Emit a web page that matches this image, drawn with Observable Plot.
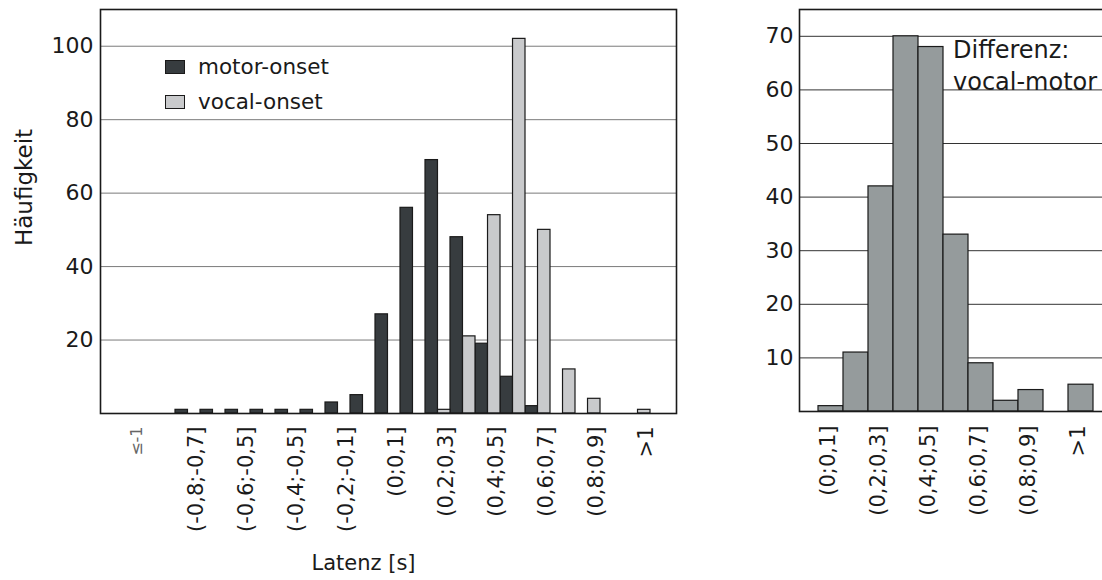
<!DOCTYPE html>
<html>
<head>
<meta charset="utf-8">
<script src="https://cdn.jsdelivr.net/npm/d3@7"></script>
<script src="https://cdn.jsdelivr.net/npm/@observablehq/plot@0.6"></script>
<style>
  html, body { margin: 0; padding: 0; background: #fff; }
  body { position: relative; width: 1102px; height: 580px; overflow: hidden; font-family: "DejaVu Sans", sans-serif; color: #1a1a1a; }
  #latency { position: absolute; left: 0; top: 0; width: 700px; height: 580px; }
  #difference { position: absolute; left: 700px; top: 0; width: 412px; height: 580px; }
  #latency svg, #difference svg { max-width: none !important; display: block; }
  .legend { position: absolute; left: 165px; top: 49px; font-size: 21.5px; }
  .legend .row { display: flex; align-items: center; height: 35px; }
  .legend .swatch { width: 18px; height: 12px; border: 1.3px solid #1a1a1a; margin-right: 13px; }
</style>
</head>
<body>
<div id="latency"></div>
<div id="difference"></div>
<div class="legend" id="legend"></div>
<script>
// Latency bins (seconds), left histogram
const latencyBins = [
  "≤-1", "(-1;-0,9]", "(-0,9;-0,8]", "(-0,8;-0,7]", "(-0,7;-0,6]", "(-0,6;-0,5]",
  "(-0,5;-0,4]", "(-0,4;-0,5]", "(-0,3;-0,2]", "(-0,2;-0,1]", "(-0,1;0]",
  "(0;0,1]", "(0,1;0,2]", "(0,2;0,3]", "(0,3;0,4]", "(0,4;0,5]", "(0,5;0,6]",
  "(0,6;0,7]", "(0,7;0,8]", "(0,8;0,9]", "(0,9;1]", ">1"
];
const motorOnset = [0, 0, 0, 1, 1, 1, 1, 1, 1, 3, 5, 27, 56, 69, 48, 19, 10, 2, 0, 0, 0, 0];
const vocalOnset = [0, 0, 0, 0, 0, 0, 0, 0, 0, 0, 0, 0, 0, 1, 21, 54, 102, 50, 12, 4, 0, 1];
const latencyLabels = [
  "(-0,8;-0,7]", "(-0,6;-0,5]", "(-0,4;-0,5]", "(-0,2;-0,1]", "(0;0,1]",
  "(0,2;0,3]", "(0,4;0,5]", "(0,6;0,7]", "(0,8;0,9]", ">1"
];
const latencyFirstLabel = ["≤-1"];
const latencyTicks = [20, 40, 60, 80, 100];
const seriesNames = ["motor-onset", "vocal-onset"];

// Difference vocal - motor, right histogram
const diffBins = [
  "(0;0,1]", "(0,1;0,2]", "(0,2;0,3]", "(0,3;0,4]", "(0,4;0,5]", "(0,5;0,6]",
  "(0,6;0,7]", "(0,7;0,8]", "(0,8;0,9]", "(0,9;1]", ">1"
];
const diffCounts = [1, 11, 42, 70, 68, 33, 9, 2, 4, 0, 5];
const diffLabels = ["(0;0,1]", "(0,2;0,3]", "(0,4;0,5]", "(0,6;0,7]", "(0,8;0,9]", ">1"];
const diffTicks = [10, 20, 30, 40, 50, 60, 70];
const diffNote = ["Differenz:\nvocal-motor"];

const motorFill = "#373c3f";
const vocalFill = "#c9cacc";
const diffFill = "#959b9c";
const ink = "#1a1a1a";
const font = "DejaVu Sans, sans-serif";

// ---- left: latency histogram ----
const L = {width: 700, height: 580, left: 100, right: 24, top: 9, bottom: 167};
const slots = latencyBins.length + 1;               // one empty slot on the right
const step = (L.width - L.left - L.right) / slots;
const motorRows = latencyBins.map((bin, i) => ({bin, count: motorOnset[i]})).filter(d => d.count > 0);
const vocalRows = latencyBins.map((bin, i) => ({bin, count: vocalOnset[i]})).filter(d => d.count > 0);

const latency = Plot.plot({
  width: L.width, height: L.height,
  marginLeft: L.left, marginRight: L.right, marginTop: L.top, marginBottom: L.bottom,
  style: {fontFamily: font, background: "transparent", color: ink},
  x: {type: "band", domain: latencyBins, range: [L.left, L.left + step * latencyBins.length], padding: 0, axis: null},
  y: {domain: [0, 110], axis: null},
  marks: [
    Plot.ruleY(latencyTicks, {stroke: "#7a7a7a", strokeWidth: 1}),
    Plot.barY(motorRows, {x: "bin", y: "count", fill: motorFill, stroke: ink, strokeWidth: 1.2, insetRight: step / 2}),
    Plot.barY(vocalRows, {x: "bin", y: "count", fill: vocalFill, stroke: ink, strokeWidth: 1.2, insetLeft: step / 2}),
    Plot.frame({stroke: ink, strokeWidth: 1.6}),
    Plot.axisY({ticks: latencyTicks, tickSize: 0, tickPadding: 7, fontSize: 22, label: null}),
    Plot.text(latencyLabels, {x: d => d, frameAnchor: "bottom", rotate: -90, textAnchor: "end", lineAnchor: "top", dy: 13, fontSize: 21, fill: ink}),
    Plot.text(latencyFirstLabel, {x: d => d, frameAnchor: "bottom", rotate: -90, textAnchor: "end", lineAnchor: "top", dy: 13, dx: 18, fontSize: 16, fill: "#666"}),
    Plot.text(["Häufigkeit"], {frameAnchor: "left", rotate: -90, textAnchor: "middle", lineAnchor: "middle", dx: -76, dy: -24, fontSize: 23, fill: ink}),
    Plot.text(["Latenz [s]"], {frameAnchor: "bottom", textAnchor: "middle", lineAnchor: "middle", dx: -25, dy: 150, fontSize: 21, fill: ink})
  ]
});
document.getElementById("latency").append(latency);

// legend inside the left panel
const legend = document.getElementById("legend");
[[seriesNames[0], motorFill], [seriesNames[1], vocalFill]].forEach(([name, color]) => {
  const row = document.createElement("div");
  row.className = "row";
  const sw = document.createElement("span");
  sw.className = "swatch";
  sw.style.background = color;
  const label = document.createElement("span");
  label.textContent = name;
  row.append(sw, label);
  legend.append(row);
});

// ---- right: vocal-motor difference histogram ----
const R = {width: 412, height: 580, left: 99, right: 0, top: 9, bottom: 169};
const diffRows = diffBins.map((bin, i) => ({bin, count: diffCounts[i]})).filter(d => d.count > 0);

const difference = Plot.plot({
  width: R.width, height: R.height,
  marginLeft: R.left, marginRight: R.right, marginTop: R.top, marginBottom: R.bottom,
  style: {fontFamily: font, background: "transparent", color: ink},
  x: {type: "band", domain: diffBins, paddingInner: 0, paddingOuter: 0.72, axis: null},
  y: {domain: [0, 75], axis: null},
  marks: [
    Plot.ruleY(diffTicks, {stroke: "#333", strokeWidth: 1}),
    Plot.barY(diffRows, {x: "bin", y: "count", fill: diffFill, stroke: ink, strokeWidth: 1.2}),
    Plot.frame({stroke: ink, strokeWidth: 1.6}),
    Plot.axisY({ticks: diffTicks, tickSize: 0, tickPadding: 6, fontSize: 22, label: null}),
    Plot.text(diffLabels, {x: d => d, frameAnchor: "bottom", rotate: -90, textAnchor: "end", lineAnchor: "middle", dy: 14, dx: -3, fontSize: 21, fill: ink}),
    Plot.text(diffNote, {x: () => "(0,5;0,6]", y: () => 70, textAnchor: "start", lineAnchor: "top", dx: -3, dy: 0, fontSize: 24, lineHeight: 1.3, fill: ink})
  ]
});
document.getElementById("difference").append(difference);
</script>
</body>
</html>
